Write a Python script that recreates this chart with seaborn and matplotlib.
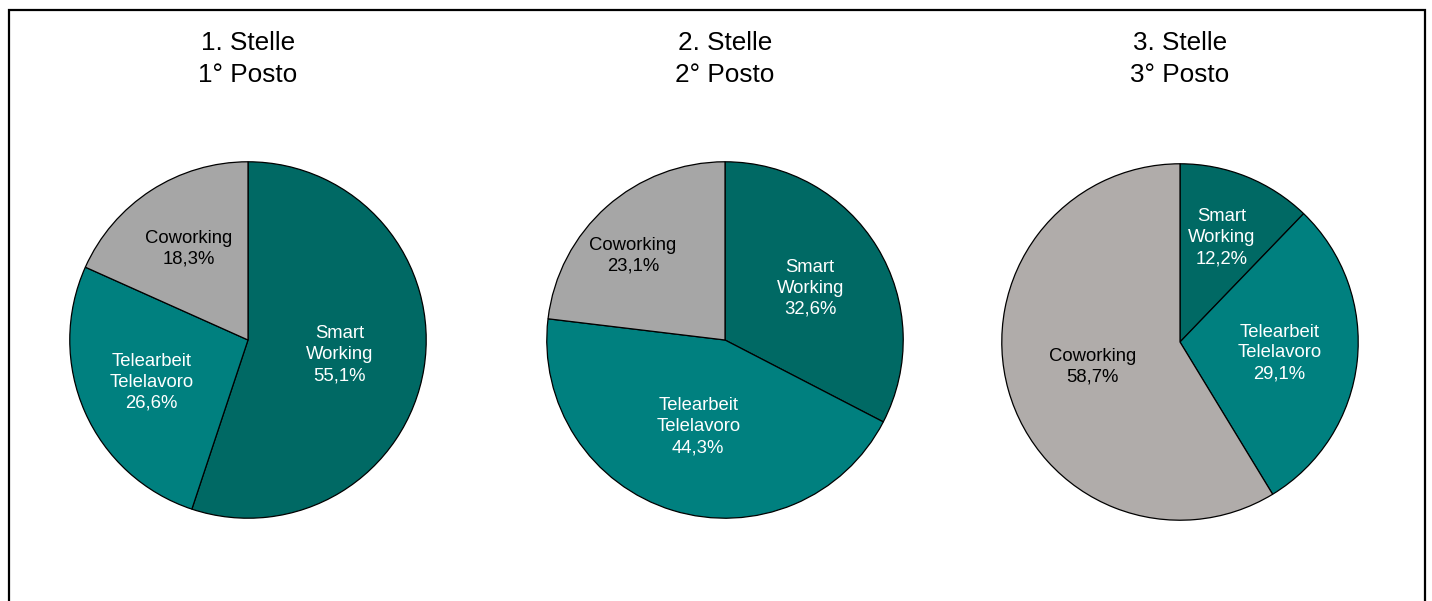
import numpy as np
import matplotlib
matplotlib.use("Agg")
import matplotlib.pyplot as plt
from matplotlib.patches import Rectangle
import seaborn as sns

# Survey results: share of each work form ranked 1st, 2nd and 3rd
titles = ["1. Stelle\n1° Posto", "2. Stelle\n2° Posto", "3. Stelle\n3° Posto"]
categories = ["Smart\nWorking", "Telearbeit\nTelelavoro", "Coworking"]
rank1 = [55.1, 26.6, 18.3]
rank2 = [32.6, 44.3, 23.1]
rank3 = [12.2, 29.1, 58.7]
series = [rank1, rank2, rank3]

sns.set_theme(style="white")
plt.rcParams["font.family"] = ["Liberation Sans", "DejaVu Sans"]
plt.rcParams["text.color"] = "black"

smart_col = "#006964"
tele_col = "#00807f"
cowork_cols = ["#a6a6a6", "#a6a6a6", "#b0acaa"]
text_cols = ["white", "white", "black"]

W, H = 1432, 601
fig = plt.figure(figsize=(W / 100, H / 100), dpi=100)
fig.patch.set_facecolor("white")

# Outer frame (runs past the bottom edge)
fig.patches.append(Rectangle((9 / W, -0.05), (1425 - 9) / W, 1.05 - 10 / H,
                             transform=fig.transFigure, fill=False,
                             edgecolor="black", linewidth=1.6))

centers = [(248, 340), (725, 340), (1180, 342)]
radius_px = 180
# radial position and angular nudge (degrees) of each slice label
label_r = [[0.52, 0.59, 0.61], [0.56, 0.51, 0.70], [0.63, 0.56, 0.51]]
label_da = [[0, 0, 0], [0, 0, 6], [0, 0, 0]]

for i, (vals, title, (cx, cy)) in enumerate(zip(series, titles, centers)):
    ax = fig.add_axes([(cx - radius_px) / W, (H - cy - radius_px) / H,
                       2 * radius_px / W, 2 * radius_px / H])
    colors = [smart_col, tele_col, cowork_cols[i]]
    wedges, _ = ax.pie(vals, colors=colors, startangle=90, counterclock=False,
                       wedgeprops=dict(edgecolor="black", linewidth=0.9))
    ax.set_xlim(-1.01, 1.01)
    ax.set_ylim(-1.01, 1.01)
    ax.set_aspect("equal")
    ax.axis("off")
    for j, (w, cat, v) in enumerate(zip(wedges, categories, vals)):
        ang = np.deg2rad((w.theta1 + w.theta2) / 2 + label_da[i][j])
        r = label_r[i][j]
        ax.text(r * np.cos(ang), r * np.sin(ang),
                f"{cat}\n{v:.1f}%".replace(".", ","),
                ha="center", va="center", fontsize=13.3,
                color=text_cols[j], linespacing=1.3)
    fig.text(cx / W, 1 - 59 / H, title, ha="center", va="center",
             fontsize=18.8, linespacing=1.38, color="black")

fig.savefig("out.png", dpi=100, facecolor="white")
